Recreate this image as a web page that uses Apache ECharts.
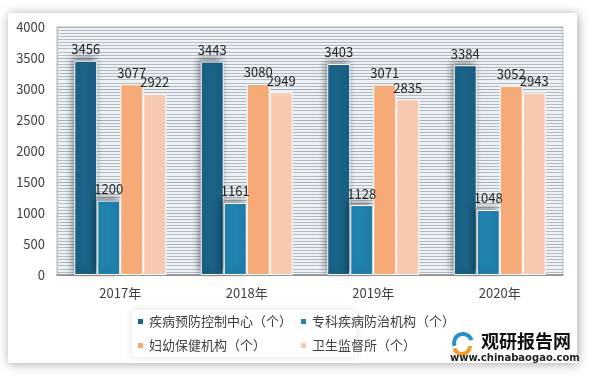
<!DOCTYPE html>
<html><head><meta charset="utf-8">
<script src="https://cdn.jsdelivr.net/npm/echarts@6/dist/echarts.min.js"></script>
<style>html,body{margin:0;padding:0;background:#fff;}#c{width:589px;height:381px;}</style>
</head><body><div id="c"></div>
<script>
const categories = ['2017年', '2018年', '2019年', '2020年'];
const seriesNames = ['疾病预防控制中心（个）', '专科疾病防治机构（个）', '妇幼保健机构（个）', '卫生监督所（个）'];
const cdc = [3456, 3443, 3403, 3384];
const specialist = [1200, 1161, 1128, 1048];
const maternal = [3077, 3080, 3071, 3052];
const supervision = [2922, 2949, 2835, 2943];
const colors = ['#1b6488', '#2184b1', '#f6aa77', '#f8c9b1'];

const chart = echarts.init(document.getElementById('c'), null, {renderer: 'canvas'});
const font = '"Noto Sans CJK SC", "Noto Sans", sans-serif';
const values = [cdc, specialist, maternal, supervision];
const series = values.map((v, i) => ({
  name: seriesNames[i],
  type: 'bar',
  data: v,
  barWidth: 23,
  barGap: '0%',
  z: 5,
  itemStyle: Object.assign({color: colors[i], borderColor: '#ffffff', borderWidth: 1},
    i < 2 ? {shadowColor: 'rgba(0,0,0,0.45)', shadowBlur: 7, shadowOffsetX: -2, shadowOffsetY: -3} : {}),
  label: {show: true, position: 'top', distance: 5, color: '#262626', fontSize: 13, fontFamily: font}
}));
const legendPos = [[136, 315], [299, 315], [136, 339], [299, 339]];
const legends = seriesNames.map((n, i) => ({
  data: [n], left: legendPos[i][0], top: legendPos[i][1], icon: 'rect', itemWidth: 7, itemHeight: 7, itemGap: 6,
  textStyle: {fontSize: 13, color: '#404040', fontFamily: font}, padding: 0
}));
chart.setOption({
  animation: false,
  color: colors,
  graphic: [
    {type: 'rect', z: -10, silent: true, shape: {x: 8, y: 13, width: 569, height: 350}, style: {fill: '#ffffff', shadowColor: 'rgba(0,0,0,0.35)', shadowBlur: 10, shadowOffsetX: 1, shadowOffsetY: 1}},
    {type: 'rect', z: -8, silent: true, shape: {x: 57, y: 27, width: 506, height: 248}, style: {fill: '#edf2f7'}},
    {type: 'rect', z: -5, silent: true, shape: {x: 132, y: 310, width: 225, height: 47}, style: {fill: '#ffffff', shadowColor: 'rgba(0,0,0,0.12)', shadowBlur: 8}},
    {type: 'arc', shape: {cx: 463, cy: 343, r: 9, startAngle: Math.PI * 0.9, endAngle: Math.PI * 1.9}, style: {stroke: '#2a8fc8', lineWidth: 4, fill: null}},
    {type: 'arc', shape: {cx: 462, cy: 346, r: 8, startAngle: Math.PI * 0.0, endAngle: Math.PI * 0.9}, style: {stroke: '#f39a2c', lineWidth: 4, fill: null}},
    {type: 'text', left: 481, top: 332, style: {text: '观研报告网', font: 'bold 18px "Noto Sans CJK SC"', fill: '#111'}},
    {type: 'text', left: 450, top: 353, style: {text: 'www.chinabaogao.com', font: 'bold 10px "DejaVu Sans"', fill: '#222'}}
  ],
  grid: {left: 57, right: 26, top: 27, bottom: 106, show: true, backgroundColor: 'transparent', borderColor: '#b8bec4', borderWidth: 1},
  legend: legends,
  xAxis: {
    type: 'category', data: categories, z: 3,
    axisLine: {show: true, lineStyle: {color: '#8c8c8c', width: 1.5}},
    axisTick: {show: false},
    splitLine: {show: false},
    axisLabel: {color: '#404040', fontSize: 13, fontFamily: font, margin: 12}
  },
  yAxis: [{
    type: 'value', min: 0, max: 4000, interval: 500, z: 2,
    axisLine: {show: true, lineStyle: {color: '#b8bec4'}},
    axisTick: {show: false},
    axisLabel: {color: '#404040', fontSize: 13, fontFamily: font, margin: 12, formatter: v => String(v)},
    splitLine: {show: true, lineStyle: {color: '#a7aeb6', width: 1, type: 'solid', opacity: 1}}
  }, {
    type: 'value', min: 0, max: 4000, interval: 50, position: 'left', z: 1,
    axisLine: {show: false}, axisTick: {show: false}, axisLabel: {show: false},
    splitLine: {show: true, lineStyle: {color: '#b3bac1', width: 1, type: 'solid', opacity: 1}}
  }],
  series: series
});
</script></body></html>
